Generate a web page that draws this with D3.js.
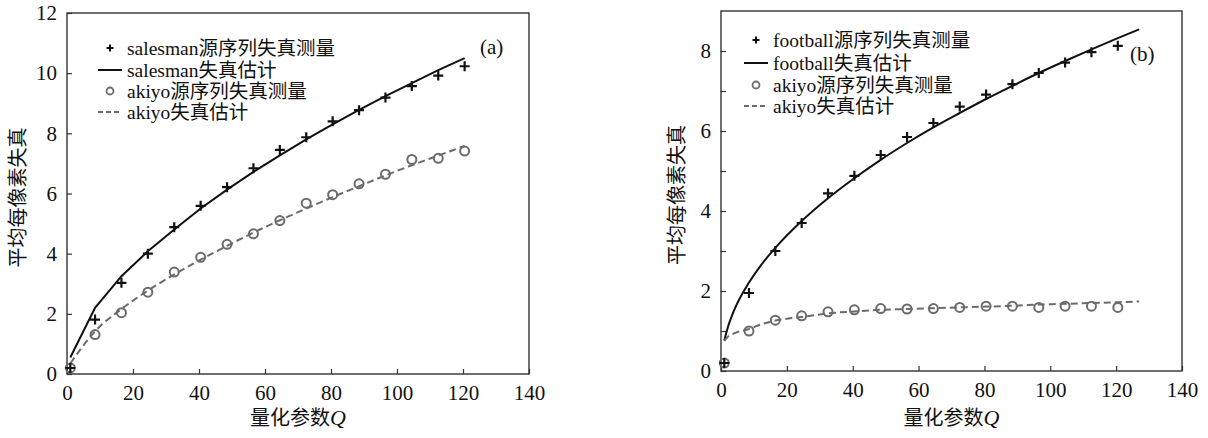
<!DOCTYPE html>
<html>
<head>
<meta charset="utf-8">
<script src="https://cdn.jsdelivr.net/npm/d3@7/dist/d3.min.js"></script>
<style>
  html, body { margin: 0; padding: 0; background: #fff; }
  svg text { font-family: "Liberation Serif", "Times New Roman", "Noto Sans CJK SC", serif; fill: #111; }
</style>
</head>
<body>
<div id="chart"></div>
<script>
// Quantisation parameter Q at the measured points
const qMeas = [1, 8.5, 16.5, 24.5, 32.5, 40.5, 48.5, 56.5, 64.5, 72.5, 80.5, 88.5, 96.5, 104.5, 112.5, 120.5];

// (a) salesman / akiyo
const salesmanMeas = [0.2, 1.81, 3.03, 4.0, 4.88, 5.59, 6.21, 6.84, 7.45, 7.87, 8.4, 8.77, 9.19, 9.57, 9.92, 10.23];
const salesmanEst = [0.55, 2.2, 3.25, 4.08, 4.8, 5.5, 6.13, 6.72, 7.27, 7.8, 8.3, 8.78, 9.24, 9.67, 10.1, 10.5];
const akiyoMeasA = [0.2, 1.31, 2.04, 2.72, 3.39, 3.88, 4.31, 4.66, 5.1, 5.68, 5.96, 6.32, 6.64, 7.13, 7.17, 7.41];
const akiyoEstA = [0.35, 1.42, 2.16, 2.77, 3.31, 3.8, 4.26, 4.7, 5.11, 5.5, 5.88, 6.24, 6.6, 6.94, 7.26, 7.58];

// (b) football / akiyo
const footballMeas = [0.2, 1.95, 3.0, 3.7, 4.44, 4.88, 5.4, 5.85, 6.2, 6.61, 6.91, 7.17, 7.45, 7.71, 7.97, 8.13];
const akiyoMeasB = [0.2, 1.0, 1.27, 1.38, 1.48, 1.53, 1.56, 1.55, 1.56, 1.59, 1.62, 1.62, 1.59, 1.62, 1.62, 1.59];
const qEstB = [1, 2, 4, 8.5, 12, 16.5, 24.5, 32.5, 40.5, 48.5, 56.5, 64.5, 72.5, 80.5, 88.5, 96.5, 104.5, 112.5, 120.5, 127];
const footballEst = [0.76, 1.07, 1.52, 2.21, 2.63, 3.08, 3.75, 4.32, 4.82, 5.28, 5.7, 6.09, 6.45, 6.8, 7.13, 7.45, 7.75, 8.04, 8.32, 8.54];
const akiyoEstB = [0.75, 0.85, 0.94, 1.05, 1.16, 1.26, 1.35, 1.44, 1.49, 1.53, 1.55, 1.57, 1.59, 1.61, 1.63, 1.66, 1.68, 1.7, 1.72, 1.74];

const xTicks = [0, 20, 40, 60, 80, 100, 120, 140];
const yTicksA = [0, 2, 4, 6, 8, 10, 12];
const yTicksB = [0, 1, 2, 3, 4, 5, 6, 7, 8];

const legendA = ['salesman源序列失真测量', 'salesman失真估计', 'akiyo源序列失真测量', 'akiyo失真估计'];
const legendB = ['football源序列失真测量', 'football失真估计', 'akiyo源序列失真测量', 'akiyo失真估计'];

const yTitle = '平均每像素失真';
const xTitle = '量化参数';

const W = 1208, H = 438;
const BLACK = '#111';
const GREY = '#6b6b6b';
const SERIF = '"Liberation Serif", "Times New Roman", serif';

const svg = d3.select('#chart').append('svg')
  .attr('width', W)
  .attr('height', H);

function drawPlus(g, cx, cy, s, w) {
  g.append('path')
    .attr('d', `M${cx - s},${cy}H${cx + s}M${cx},${cy - s}V${cy + s}`)
    .attr('stroke', BLACK)
    .attr('stroke-width', w)
    .attr('fill', 'none');
}

function panel(opt) {
  const x = d3.scaleLinear().domain([0, 140]).range([opt.left, opt.right]);
  const y = d3.scaleLinear().domain([0, opt.yMax]).range([opt.bottom, opt.top]);
  const g = svg.append('g');

  // Axes (ticks pointing inward)
  g.append('g')
    .attr('transform', `translate(0,${opt.bottom})`)
    .call(d3.axisBottom(x).tickValues(xTicks).tickSize(-5).tickPadding(11))
    .attr('font-family', SERIF);
  g.append('g')
    .attr('transform', `translate(${opt.left},0)`)
    .call(d3.axisLeft(y).tickValues(opt.yTicks).tickSize(-5).tickPadding(10)
      .tickFormat((d) => (d % 2 === 0 ? d : '')))
    .attr('font-family', SERIF);
  g.selectAll('.domain').remove();
  g.selectAll('.tick line').attr('stroke', '#333').attr('stroke-width', 1.2);
  g.selectAll('.tick text').style('font-size', '21px').style('font-family', SERIF);

  // Frame
  g.append('rect')
    .attr('x', opt.left)
    .attr('y', opt.top)
    .attr('width', opt.right - opt.left)
    .attr('height', opt.bottom - opt.top)
    .attr('fill', 'none')
    .attr('stroke', '#333')
    .attr('stroke-width', 1.4);

  const line = d3.line()
    .x((d) => x(d[0]))
    .y((d) => y(d[1]));

  // Estimate curves
  g.append('path')
    .datum(d3.zip(opt.qEst, opt.estA))
    .attr('d', line.curve(opt.smooth ? d3.curveMonotoneX : d3.curveLinear))
    .attr('fill', 'none')
    .attr('stroke', BLACK)
    .attr('stroke-width', 2);
  g.append('path')
    .datum(d3.zip(opt.qEst, opt.estB))
    .attr('d', line.curve(d3.curveMonotoneX))
    .attr('fill', 'none')
    .attr('stroke', GREY)
    .attr('stroke-width', 2)
    .attr('stroke-dasharray', '7,4');

  // Measured points
  g.selectAll('.circ')
    .data(d3.zip(qMeas, opt.measB))
    .enter()
    .append('circle')
    .attr('cx', (d) => x(d[0]))
    .attr('cy', (d) => y(d[1]))
    .attr('r', 4.5)
    .attr('fill', 'none')
    .attr('stroke', GREY)
    .attr('stroke-width', 2);
  d3.zip(qMeas, opt.measA).forEach((d) => drawPlus(g, x(d[0]), y(d[1]), 5, 2.2));

  // Legend
  const lx = opt.legX, rows = opt.legY;
  drawPlus(g, lx + 12, rows[0], 3.5, 2);
  g.append('line').attr('x1', lx).attr('x2', lx + 24).attr('y1', rows[1]).attr('y2', rows[1])
    .attr('stroke', BLACK).attr('stroke-width', 2);
  g.append('circle').attr('cx', lx + 12).attr('cy', rows[2]).attr('r', 3.5)
    .attr('fill', 'none').attr('stroke', GREY).attr('stroke-width', 1.8);
  g.append('line').attr('x1', lx).attr('x2', lx + 24).attr('y1', rows[3]).attr('y2', rows[3])
    .attr('stroke', GREY).attr('stroke-width', 2).attr('stroke-dasharray', '5,3');
  opt.legend.forEach((t, i) => {
    g.append('text')
      .attr('x', lx + 29)
      .attr('y', rows[i])
      .attr('dy', '0.35em')
      .style('font-size', '19.5px')
      .text(t);
  });

  // Panel tag
  g.append('text')
    .attr('x', opt.tag[0])
    .attr('y', opt.tag[1])
    .attr('dy', '0.35em')
    .style('font-size', '21px')
    .text(opt.tagText);

  // Axis titles
  const cx = (opt.left + opt.right) / 2;
  const xt = g.append('text')
    .attr('x', cx)
    .attr('y', 418)
    .attr('dy', '0.35em')
    .attr('text-anchor', 'middle')
    .style('font-size', '20px');
  xt.append('tspan').text(xTitle);
  xt.append('tspan').style('font-style', 'italic').style('font-size', '22px').text('Q');

  g.append('text')
    .attr('transform', `translate(${opt.yTitleX},${(opt.top + opt.bottom) / 2 + 4}) rotate(-90)`)
    .attr('text-anchor', 'middle')
    .attr('dy', '0.35em')
    .style('font-size', '20px')
    .text(yTitle);
}

panel({
  left: 67, right: 529, top: 13, bottom: 374, yMax: 12, yTicks: yTicksA,
  qEst: qMeas, estA: salesmanEst, estB: akiyoEstA, smooth: false,
  measA: salesmanMeas, measB: akiyoMeasA,
  legend: legendA, legX: 98, legY: [48, 70, 91, 112],
  tag: [480, 47], tagText: '(a)', yTitleX: 18
});

panel({
  left: 721, right: 1182, top: 11, bottom: 371, yMax: 9, yTicks: yTicksB,
  qEst: qEstB, estA: footballEst, estB: akiyoEstB, smooth: true,
  measA: footballMeas, measB: akiyoMeasB,
  legend: legendB, legX: 744, legY: [40, 63, 85, 106],
  tag: [1130, 54], tagText: '(b)', yTitleX: 677
});
</script>
</body>
</html>
